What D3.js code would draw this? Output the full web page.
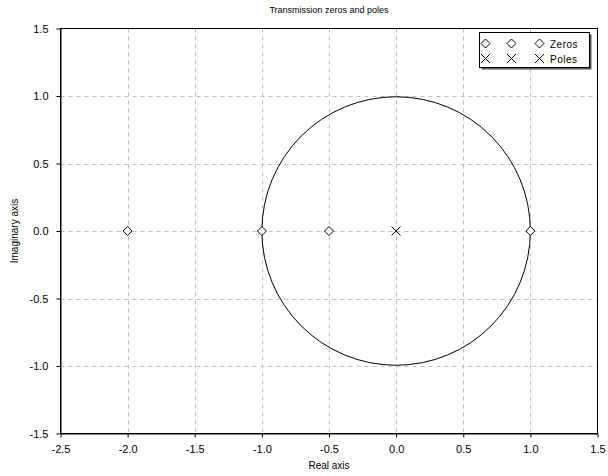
<!DOCTYPE html>
<html lang="en">
<head>
<meta charset="utf-8">
<title>Transmission zeros and poles</title>
<script src="https://cdn.jsdelivr.net/npm/d3@7"></script>
<style>
  body { margin: 0; background: #fff; }
  text { font-family: "Liberation Sans", Arial, sans-serif; fill: #000; }
</style>
</head>
<body>
<script>
// data
var zerosRe = [-2, -1, -0.5, 1];
var zerosIm = [0, 0, 0, 0];
var polesRe = [0];
var polesIm = [0];
var xTicks = [-2.5, -2.0, -1.5, -1.0, -0.5, 0.0, 0.5, 1.0, 1.5];
var yTicks = [-1.5, -1.0, -0.5, 0.0, 0.5, 1.0, 1.5];
var circleCenter = [0, 0];
var circleRadius = [1];

var W = 608, H = 476;
var pLeft = 60.5, pRight = 597.5, pTop = 28.5, pBottom = 433.5;

var svg = d3.select("body").append("svg")
  .attr("width", W).attr("height", H);

var x = d3.scaleLinear().domain([-2.5, 1.5]).range([pLeft, pRight]);
var y = d3.scaleLinear().domain([-1.5, 1.5]).range([pBottom, pTop]);

var fmt = function(d) { return d.toFixed(1); };

// grid
svg.append("g").selectAll("line")
  .data(xTicks.slice(1, -1)).enter().append("line")
  .attr("x1", function(d) { return Math.round(x(d)) + 0.5; })
  .attr("x2", function(d) { return Math.round(x(d)) + 0.5; })
  .attr("y1", pTop).attr("y2", pBottom)
  .attr("stroke", "#c0c0c0").attr("stroke-dasharray", "4,4");
svg.append("g").selectAll("line")
  .data(yTicks.slice(1, -1)).enter().append("line")
  .attr("y1", function(d) { return Math.round(y(d)) + 0.5; })
  .attr("y2", function(d) { return Math.round(y(d)) + 0.5; })
  .attr("x1", pLeft).attr("x2", pRight)
  .attr("stroke", "#c0c0c0").attr("stroke-dasharray", "4,4");

// box
svg.append("rect")
  .attr("x", pLeft).attr("y", pTop)
  .attr("width", pRight - pLeft).attr("height", pBottom - pTop)
  .attr("fill", "none").attr("stroke", "#000");

// axes
var xAxis = d3.axisBottom(x).tickValues(xTicks).tickSize(4).tickSizeOuter(0).tickPadding(8)
  .tickFormat(fmt);
var yAxis = d3.axisLeft(y).tickValues(yTicks).tickSize(4).tickSizeOuter(0).tickPadding(8)
  .tickFormat(fmt);

var gx = svg.append("g").attr("transform", "translate(0," + pBottom + ")").call(xAxis);
var gy = svg.append("g").attr("transform", "translate(" + pLeft + ",0)").call(yAxis);
[gx, gy].forEach(function(g) {
  g.select(".domain").attr("stroke", "#000");
  g.selectAll(".tick line").attr("stroke", "#000");
  g.selectAll("text").attr("font-size", 11).attr("font-family", "Liberation Sans, Arial, sans-serif")
    .attr("fill", "#000");
});

// unit circle
svg.append("circle")
  .attr("cx", x(circleCenter[0])).attr("cy", y(circleCenter[1]))
  .attr("r", x(circleRadius[0]) - x(0))
  .attr("fill", "none").attr("stroke", "#000");

// markers
var diamond = "M0,-4.5L4.5,0L0,4.5L-4.5,0Z";
var cross = "M-4.5,-4.5L4.5,4.5M-4.5,4.5L4.5,-4.5";

svg.append("g").selectAll("path")
  .data(zerosRe).enter().append("path")
  .attr("d", diamond)
  .attr("transform", function(d, i) { return "translate(" + x(d) + "," + y(zerosIm[i]) + ")"; })
  .attr("fill", "#fff").attr("stroke", "#000");

svg.append("g").selectAll("path")
  .data(polesRe).enter().append("path")
  .attr("d", cross)
  .attr("transform", function(d, i) { return "translate(" + x(d) + "," + y(polesIm[i]) + ")"; })
  .attr("fill", "none").attr("stroke", "#000");

// title and labels
svg.append("text").attr("x", (pLeft + pRight) / 2).attr("y", 13)
  .attr("text-anchor", "middle").attr("font-size", 9).text("Transmission zeros and poles");
svg.append("text").attr("x", (pLeft + pRight) / 2).attr("y", 469)
  .attr("text-anchor", "middle").attr("font-size", 10).text("Real axis");
svg.append("text").attr("transform", "translate(18," + ((pTop + pBottom) / 2) + ") rotate(-90)")
  .attr("text-anchor", "middle").attr("font-size", 10).text("Imaginary axis");

// legend
var lg = svg.append("g");
lg.append("rect").attr("x", 481.5).attr("y", 34.5).attr("width", 110).attr("height", 35)
  .attr("fill", "#555");
lg.append("rect").attr("x", 479.5).attr("y", 32.5).attr("width", 110).attr("height", 35)
  .attr("fill", "#fff").attr("stroke", "#000");
var legendItems = [{ name: "Zeros", d: diamond, fill: "#fff" }, { name: "Poles", d: cross, fill: "none" }];
var markX = [485.5, 511.5, 539.5];
legendItems.forEach(function(it, r) {
  var yy = 43.5 + r * 15;
  markX.forEach(function(mx) {
    lg.append("path").attr("d", it.d)
      .attr("transform", "translate(" + mx + "," + yy + ")")
      .attr("fill", it.fill).attr("stroke", "#000");
  });
  lg.append("text").attr("x", 550).attr("y", yy + 4).attr("font-size", 10)
    .attr("letter-spacing", 0.5).text(it.name);
});
</script>
</body>
</html>
